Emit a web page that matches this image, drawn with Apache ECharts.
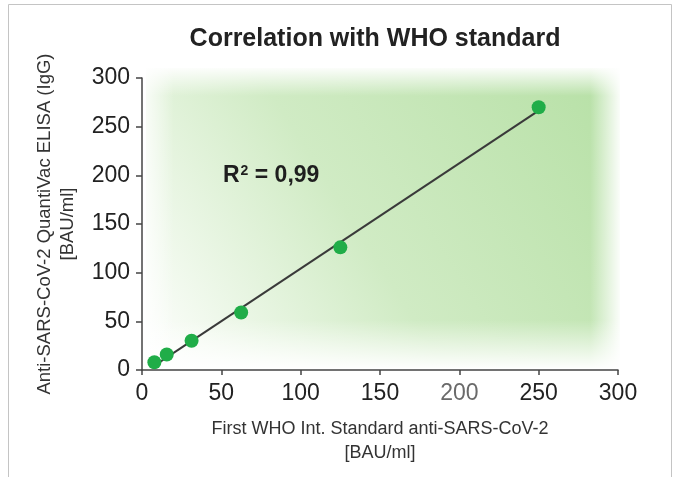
<!DOCTYPE html>
<html>
<head>
<meta charset="utf-8">
<script src="https://cdn.jsdelivr.net/npm/echarts@6/dist/echarts.min.js"></script>
<style>
  html, body { margin: 0; padding: 0; background: #fff; }
  #chart { width: 675px; height: 477px; }
</style>
</head>
<body>
<div id="chart"></div>
<script>
  var whoStandard = [7.8, 15.6, 31.25, 62.5, 125, 250];
  var quantiVac = [8, 16, 30, 59, 126, 270];
  var xTicks = ['0', '50', '100', '150', '200', '250', '300'];
  var yTicks = ['0', '50', '100', '150', '200', '250', '300'];

  var points = whoStandard.map(function (x, i) { return [x, quantiVac[i]]; });

  // least squares line through the points
  var n = points.length, sx = 0, sy = 0, sxy = 0, sxx = 0;
  points.forEach(function (p) { sx += p[0]; sy += p[1]; sxy += p[0] * p[1]; sxx += p[0] * p[0]; });
  var slope = (n * sxy - sx * sy) / (n * sxx - sx * sx);
  var icpt = (sy - slope * sx) / n;
  var x0 = whoStandard[0], x1 = whoStandard[n - 1];
  var fit = [[x0, slope * x0 + icpt], [x1, slope * x1 + icpt]];

  var font = '"Liberation Sans", Arial, sans-serif';
  var chart = echarts.init(document.getElementById('chart'));

  var option = {
    backgroundColor: '#fff',
    animation: false,
    title: {
      text: 'Correlation with WHO standard',
      left: 370, top: 22, textAlign: 'center',
      textStyle: { fontFamily: font, fontSize: 25, fontWeight: 'bold', color: '#222' }
    },
    grid: { left: 142, right: 57, top: 78, bottom: 107 },
    graphic: [
      // frame
      { type: 'rect', z: -10, shape: { x: 8.5, y: 4.5, width: 663, height: 520 },
        style: { fill: 'none', stroke: '#c4c4c4', lineWidth: 1 } },
      // green soft background
      { type: 'rect', z: -5, shape: { x: 146, y: 68, width: 474, height: 300 },
        style: { fill: new echarts.graphic.LinearGradient(0, 1, 1, 0, [
          { offset: 0, color: 'rgba(255,255,255,1)' },
          { offset: 0.45, color: 'rgba(208,235,196,1)' },
          { offset: 1, color: 'rgba(182,224,165,1)' }
        ]) } },
      { type: 'rect', z: -4, shape: { x: 146, y: 66, width: 474, height: 30 },
        style: { fill: new echarts.graphic.LinearGradient(0, 0, 0, 1, [
          { offset: 0, color: 'rgba(255,255,255,1)' },
          { offset: 1, color: 'rgba(255,255,255,0)' }
        ]) } },
      { type: 'rect', z: -4, shape: { x: 590, y: 66, width: 32, height: 304 },
        style: { fill: new echarts.graphic.LinearGradient(0, 0, 1, 0, [
          { offset: 0, color: 'rgba(255,255,255,0)' },
          { offset: 1, color: 'rgba(255,255,255,1)' }
        ]) } },
      { type: 'rect', z: -4, shape: { x: 146, y: 320, width: 476, height: 50 },
        style: { fill: new echarts.graphic.LinearGradient(0, 0, 0, 1, [
          { offset: 0, color: 'rgba(255,255,255,0)' },
          { offset: 1, color: 'rgba(255,255,255,1)' }
        ]) } },
      { type: 'rect', z: -4, shape: { x: 144, y: 66, width: 30, height: 304 },
        style: { fill: new echarts.graphic.LinearGradient(0, 0, 1, 0, [
          { offset: 0, color: 'rgba(255,255,255,0.8)' },
          { offset: 1, color: 'rgba(255,255,255,0)' }
        ]) } },
      // R² label
      { type: 'text', z: 10, left: 223, top: 164,
        style: {
          text: '{b|R}{s|2}{b| = 0,99}',
          rich: {
            b: { fontFamily: font, fontSize: 23, fontWeight: 'bold', fill: '#1e1e1e' },
            s: { fontFamily: font, fontSize: 14, fontWeight: 'bold', fill: '#1e1e1e', verticalAlign: 'top', padding: [0, 0, 9, 1] }
          }
        } }
    ],
    xAxis: {
      type: 'value', min: 0, max: 300, interval: 50,
      name: 'First WHO Int. Standard anti-SARS-CoV-2\n[BAU/ml]',
      nameLocation: 'middle', nameGap: 47,
      nameTextStyle: { fontFamily: font, fontSize: 18, color: '#333', lineHeight: 24 },
      splitLine: { show: false },
      axisLine: { lineStyle: { color: '#444', width: 1.5 } },
      axisTick: { length: 5, lineStyle: { color: '#444', width: 1.5 } },
      axisLabel: {
        fontFamily: font, fontSize: 23, color: '#222', margin: 12,
        formatter: function (v) {
          var s = xTicks[v / 50];
          return s === '200' ? '{g|' + s + '}' : s;
        },
        rich: { g: { fontFamily: font, fontSize: 23, color: '#6a6a6a' } }
      }
    },
    yAxis: {
      type: 'value', min: 0, max: 300, interval: 50,
      name: 'Anti-SARS-CoV-2 QuantiVac ELISA (IgG)\n[BAU/ml]',
      nameLocation: 'middle', nameGap: 63, nameRotate: 90,
      nameTextStyle: { fontFamily: font, fontSize: 18.5, color: '#333', lineHeight: 23 },
      splitLine: { show: false },
      axisLine: { show: true, lineStyle: { color: '#444', width: 1.5 } },
      axisTick: { show: true, length: 6, lineStyle: { color: '#444', width: 1.5 } },
      axisLabel: {
        fontFamily: font, fontSize: 23, color: '#222', margin: 12,
        formatter: function (v) { return yTicks[v / 50]; }
      }
    },
    series: [
      {
        type: 'line', data: fit, symbol: 'none', silent: true, z: 2,
        lineStyle: { color: '#3a3a3a', width: 2 }
      },
      {
        type: 'scatter', data: points, symbolSize: 14, z: 3,
        itemStyle: { color: '#20ad48', opacity: 1 }
      }
    ]
  };

  chart.setOption(option);
</script>
</body>
</html>
